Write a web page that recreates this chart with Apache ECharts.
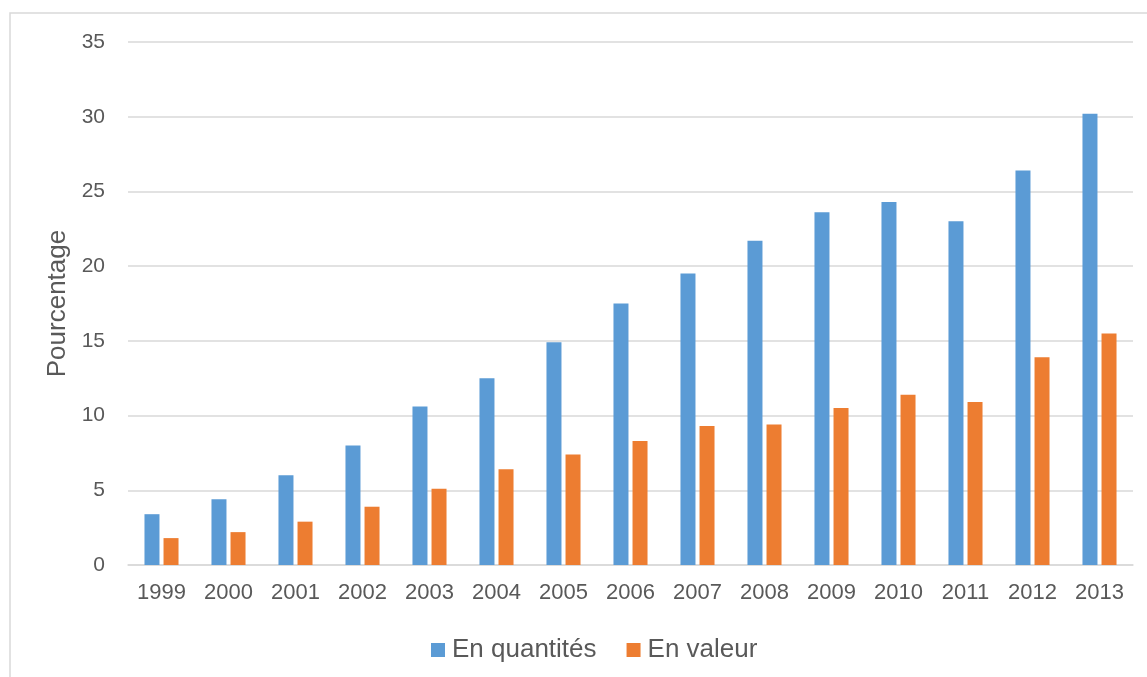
<!DOCTYPE html>
<html>
<head>
<meta charset="utf-8">
<script src="https://cdn.jsdelivr.net/npm/echarts@6/dist/echarts.min.js"></script>
<style>
  html, body { margin: 0; padding: 0; background: #fff; }
  #chart { width: 1147px; height: 677px; }
</style>
</head>
<body>
<div id="chart"></div>
<script>
// années
const years = ["1999", "2000", "2001", "2002", "2003", "2004", "2005", "2006",
  "2007", "2008", "2009", "2010", "2011", "2012", "2013"];
// séries
const enQuantites = [3.4, 4.4, 6.0, 8.0, 10.6, 12.5, 14.9, 17.5, 19.5, 21.7, 23.6, 24.3, 23.0, 26.4, 30.2];
const enValeur = [1.8, 2.2, 2.9, 3.9, 5.1, 6.4, 7.4, 8.3, 9.3, 9.4, 10.5, 11.4, 10.9, 13.9, 15.5];

const textColor = "#595959";
const font = "'Liberation Sans', Arial, sans-serif";

let myChart = echarts.init(document.getElementById("chart"));
myChart.setOption({
  animation: false,
  textStyle: { fontFamily: font },
  graphic: [
    {
      type: "rect",
      shape: { x: 10, y: 13, width: 1200, height: 700 },
      style: { fill: "none", stroke: "#d9d9d9", lineWidth: 1.5 },
      silent: true,
    },
  ],
  grid: {
    left: 128,
    right: 14,
    top: 42,
    bottom: 112,
  },
  legend: {
    top: 632,
    left: 426,
    icon: "rect",
    itemWidth: 14,
    itemHeight: 14,
    itemGap: 30,
    textStyle: { color: textColor, fontSize: 26, fontFamily: font, padding: [0, 0, 0, 2] },
    data: ["En quantités", "En valeur"],
  },
  xAxis: {
    type: "category",
    data: years,
    axisTick: { show: false },
    axisLine: { lineStyle: { color: "#d9d9d9", width: 1.5 } },
    axisLabel: {
      color: textColor,
      fontSize: 22,
      margin: 17,
      interval: 0,
    },
  },
  yAxis: {
    type: "value",
    min: 0,
    max: 35,
    interval: 5,
    name: "Pourcentage",
    nameLocation: "middle",
    nameGap: 51,
    nameTextStyle: { color: textColor, fontSize: 26, fontFamily: font },
    axisLine: { show: false },
    axisTick: { show: false },
    splitLine: { lineStyle: { color: "#d9d9d9", width: 1.5 } },
    axisLabel: {
      color: textColor,
      fontSize: 21,
      margin: 23,
    },
  },
  series: [
    {
      name: "En quantités",
      type: "bar",
      data: enQuantites,
      barWidth: 15,
      barGap: "27%",
      itemStyle: { color: "#5b9bd5" },
    },
    {
      name: "En valeur",
      type: "bar",
      data: enValeur,
      barWidth: 15,
      barGap: "27%",
      itemStyle: { color: "#ed7d31" },
    },
  ],
});
</script>
</body>
</html>
